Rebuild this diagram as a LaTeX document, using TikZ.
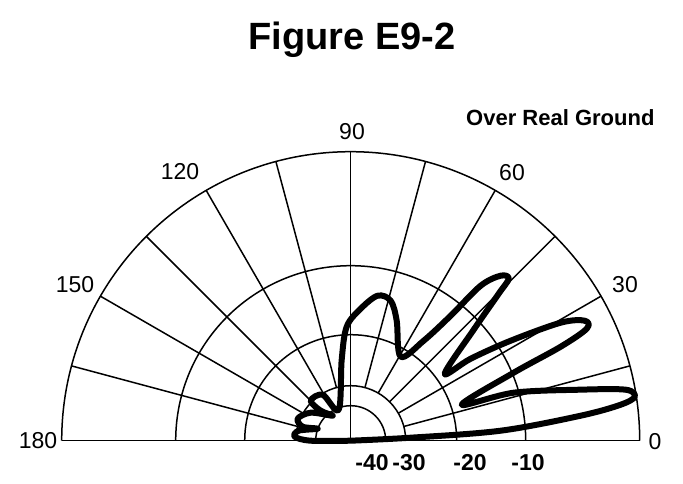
\documentclass[tikz,border=0pt]{standalone}
\usepackage{fontspec}
\setmainfont{Liberation Sans}
\begin{document}
\begin{tikzpicture}[x=1pt,y=1pt,
  grid/.style={line width=1.5pt,black},
  lab/.style={font=\fontsize{23}{25}\selectfont,inner sep=0pt},
  dblab/.style={font=\fontsize{23}{25}\selectfont\bfseries,inner sep=0pt},
  patt/.style={line width=6pt,black,line join=round}]
\useasboundingbox (0,0) rectangle (683,484);
\coordinate (c) at (350.7,43.3);
\begin{scope}[shift={(c)}]
  \foreach \r in {35,55,106,175,289}{\draw[grid] (\r,0) arc[start angle=0,end angle=180,radius=\r];}
  \draw[grid] (-289,0) -- (289,0);
  \draw[grid] (0,0) -- (0,289);
  \foreach \a in {15,30,45,60,75,105,120,135,150,165}{\draw[grid] (\a:55) -- (\a:289);}
  \draw[patt] plot[smooth,tension=0.55] coordinates {
    (0,0) (60,3) (150,10) (230,25) (270,36) (284,44) (275,51) (229,51) (163,48) (111,36)
    (163,68) (210,94) (236,112) (234,120) (210,118) (160,100) (120,82) (94,67)
    (123,111) (148,147) (158,162) (150,165) (130,155) (100,125) (73,100) (50,84)
    (46,120) (40,140) (27,145) (10,132) (-4,114) (-9,81) (-12,31)
    (-28,46) (-40,40) (-30,30) (-18,25) (-40,28) (-53,22) (-48,14) (-33,12) (-52,10) (-56,4) (-40,0) (0,0)};
\end{scope}
\node[font=\fontsize{38}{40}\selectfont\bfseries] (title) at (352,444) {Figure E9-2};
\node[font=\fontsize{22}{24}\selectfont\bfseries,anchor=east] (og) at (658,366) {Over Real Ground};
\node[lab] (l90) at (352,352) {90};
\node[lab] (l120) at (180,312) {120};
\node[lab] (l60) at (512,311) {60};
\node[lab] (l150) at (75,199) {150};
\node[lab] (l30) at (625,199) {30};
\node[lab] (l180) at (38,43) {180};
\node[lab] (l0) at (655,42) {0};
\node[dblab] (d40) at (372,21) {-40};
\node[dblab] (d30) at (409,21) {-30};
\node[dblab] (d20) at (470,21) {-20};
\node[dblab] (d10) at (528,21) {-10};
\end{tikzpicture}
\end{document}
